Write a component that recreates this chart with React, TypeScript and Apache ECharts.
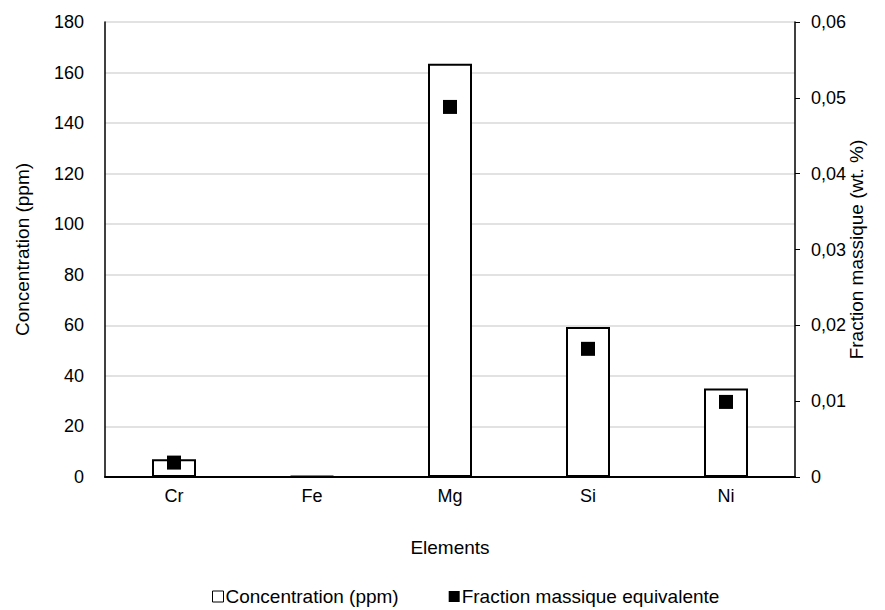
import React, { useEffect, useRef } from "react";
import * as echarts from "echarts";

const categories = ["Cr", "Fe", "Mg", "Si", "Ni"];
const concentrationPpm = [7, 0.4, 163.5, 59.3, 35];
const fractionMassique: (number | null)[] = [0.0019, null, 0.0488, 0.0169, 0.0099];
const leftTicks = { min: 0, max: 180, interval: 20 };
const rightTicks = { min: 0, max: 0.06, interval: 0.01 };

const FONT = "'Liberation Sans', Arial, sans-serif";
const FS = 19;
const TICK_FS = 18;

export default function App() {
  const ref = useRef<HTMLDivElement>(null);
  useEffect(() => {
    if (!ref.current) return;
    const chart = echarts.init(ref.current, undefined, { renderer: "svg" });
    chart.setOption({
      animation: false,
      backgroundColor: "#ffffff",
      textStyle: { fontFamily: FONT, color: "#000" },
      grid: { left: 105, right: 90, top: 22, bottom: 133 },
      legend: {
        top: 582,
        left: 207,
        itemWidth: 11,
        itemHeight: 11,
        itemGap: 50,
        textStyle: { fontFamily: FONT, fontSize: FS, color: "#000", padding: [0, 0, 0, -3] },
        data: [
          { name: "Concentration (ppm)", icon: "rect", itemStyle: { color: "#fff", borderColor: "#000", borderWidth: 1 } },
          { name: "Fraction massique equivalente", icon: "rect", itemStyle: { color: "#000", opacity: 1 } },
        ],
      },
      xAxis: {
        type: "category",
        data: categories,
        name: "Elements",
        nameLocation: "middle",
        nameGap: 61,
        nameMoveOverlap: false,
        nameTextStyle: { fontFamily: FONT, fontSize: FS, color: "#000" },
        axisLine: { lineStyle: { color: "#000", width: 2 } },
        axisTick: { show: false },
        axisLabel: { fontFamily: FONT, fontSize: TICK_FS, color: "#000", margin: 10 },
      },
      yAxis: [
        {
          type: "value",
          ...leftTicks,
          name: "Concentration (ppm)",
          nameLocation: "middle",
          nameGap: 73,
          nameMoveOverlap: false,
          nameTextStyle: { fontFamily: FONT, fontSize: FS, color: "#000" },
          axisLine: { show: true, lineStyle: { color: "#000", width: 1.5 } },
          axisTick: { show: false },
          axisLabel: { fontFamily: FONT, fontSize: TICK_FS, color: "#000", margin: 21 },
          splitLine: { lineStyle: { color: "#d9d9d9", width: 1.5 } },
        },
        {
          type: "value",
          ...rightTicks,
          position: "right",
          name: "Fraction massique (wt. %)",
          nameLocation: "middle",
          nameGap: 52,
          nameMoveOverlap: false,
          nameRotate: 90,
          nameTextStyle: { fontFamily: FONT, fontSize: FS, color: "#000" },
          axisLine: { show: true, lineStyle: { color: "#000", width: 1.5 } },
          axisTick: { show: true, length: 5, inside: false, lineStyle: { color: "#000", width: 1 } },
          axisLabel: {
            fontFamily: FONT,
            fontSize: TICK_FS,
            color: "#000",
            margin: 16,
            formatter: (v: number) => (v === 0 ? "0" : v.toFixed(2).replace(".", ",")),
          },
          splitLine: { show: false },
        },
      ],
      series: [
        {
          name: "Concentration (ppm)",
          type: "bar",
          yAxisIndex: 0,
          data: concentrationPpm,
          barWidth: 44,
          itemStyle: { color: "#fff", borderColor: "#000", borderWidth: 2 },
          z: 2,
        },
        {
          name: "Fraction massique equivalente",
          type: "scatter",
          yAxisIndex: 1,
          data: fractionMassique,
          symbol: "rect",
          symbolSize: 14,
          itemStyle: { color: "#000", opacity: 1 },
          z: 3,
        },
      ],
    });
    return () => chart.dispose();
  }, []);
  return (
    <div
      ref={ref}
      style={{ position: "absolute", left: 0, top: 0, width: 885, height: 610 }}
    />
  );
}
